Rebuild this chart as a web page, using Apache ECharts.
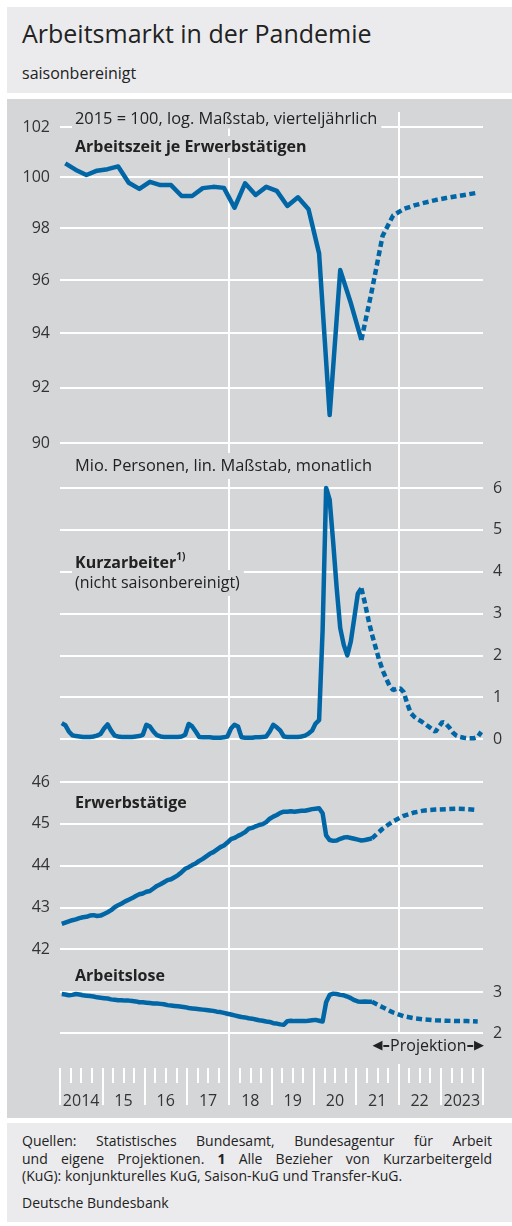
<!DOCTYPE html>
<html>
<head>
<meta charset="utf-8">
<script src="https://cdn.jsdelivr.net/npm/echarts@6/dist/echarts.min.js"></script>
<style>
body{margin:0;width:512px;height:1226px;background:#fff;font-family:"Open Sans",sans-serif;color:#222;position:relative;overflow:hidden}
#head{position:absolute;left:7px;top:7px;width:505px;height:86px;background:#ebebed}
#head .t{position:absolute;left:15px;top:11px;font-size:25px;line-height:30px;white-space:nowrap}
#head .s{position:absolute;left:15px;top:56px;font-size:16px;line-height:20px}
#chart{position:absolute;left:7px;top:99px;width:505px;height:1019px;background:#d5d6d8}
#foot{position:absolute;left:7px;top:1123px;width:505px;height:99px;background:#ebebed;box-sizing:border-box;padding:9px 20px 0 15px;font-size:14px;line-height:17.5px}
#foot .j{text-align:justify;text-align-last:justify}
#foot .src{margin-top:9px}
</style>
</head>
<body>
<div id="head">
  <div class="t">Arbeitsmarkt in der Pandemie</div>
  <div class="s">saisonbereinigt</div>
</div>
<div id="chart"></div>
<div id="foot">
  <div class="j">Quellen: Statistisches Bundesamt, Bundesagentur für Arbeit</div>
  <div class="j">und eigene Projektionen. <b>1</b> Alle Bezieher von Kurzarbeitergeld</div>
  <div>(KuG): konjunkturelles KuG, Saison-KuG und Transfer-KuG.</div>
  <div class="src">Deutsche Bundesbank</div>
</div>
<script>
// Jahresbeschriftung der x-Achse
var years = ['2014', '15', '16', '17', '18', '19', '20', '21', '22', '2023'];
// Achsenwerte Arbeitszeit (log. Skala)
var logTicks = [90, 92, 94, 96, 98, 100, 102];

// Arbeitszeit je Erwerbstätigen, vierteljährlich ab 2014 Q1
var arbeitszeit = [100.54, 100.28, 100.08, 100.25, 100.31, 100.42, 99.77, 99.53,
    99.81, 99.68, 99.68, 99.25, 99.25, 99.56, 99.61, 99.57,
    98.79, 99.75, 99.29, 99.61, 99.45, 98.86, 99.20, 98.73,
    97.02, 91.00, 96.38, 95.13, 93.75];
// Projektion, vierteljährlich ab 2021 Q1
var arbeitszeitProj = [93.75, 95.62, 97.69, 98.49, 98.74, 98.88, 98.99, 99.09, 99.17, 99.24, 99.31, 99.38];

// Kurzarbeiter in Mio., monatlich ab Jan 2014
var kurzarbeiter = [
    0.38, 0.33, 0.18, 0.09, 0.07, 0.06, 0.05, 0.05, 0.05, 0.06, 0.08, 0.12,
    0.25, 0.35, 0.20, 0.08, 0.06, 0.05, 0.05, 0.05, 0.05, 0.06, 0.07, 0.10,
    0.34, 0.30, 0.18, 0.09, 0.06, 0.05, 0.05, 0.05, 0.05, 0.05, 0.06, 0.10,
    0.36, 0.30, 0.18, 0.05, 0.04, 0.04, 0.04, 0.03, 0.03, 0.03, 0.04, 0.06,
    0.25, 0.34, 0.30, 0.04, 0.03, 0.03, 0.03, 0.04, 0.04, 0.05, 0.06, 0.18,
    0.34, 0.28, 0.20, 0.06, 0.05, 0.05, 0.05, 0.05, 0.06, 0.08, 0.13, 0.20,
    0.37, 0.45, 2.60, 6.00, 5.72, 4.70, 3.60, 2.65, 2.25, 2.00, 2.33, 2.90,
    3.48, 3.60];
// Projektion, monatlich ab Feb 2021
var kurzarbeiterProj = [3.60, 3.25, 2.85, 2.50, 2.20, 1.90, 1.65, 1.45, 1.27, 1.17, 1.20,
    1.21, 1.12, 0.85, 0.62, 0.53, 0.47, 0.42, 0.36, 0.30, 0.24, 0.17, 0.30,
    0.41, 0.36, 0.27, 0.15, 0.08, 0.05, 0.03, 0.02, 0.02, 0.02, 0.05, 0.17];

// Erwerbstätige in Mio., monatlich ab Jan 2014
var erwerbstaetige = [
    42.60, 42.63, 42.66, 42.69, 42.71, 42.74, 42.76, 42.77, 42.80, 42.81, 42.79, 42.80,
    42.84, 42.88, 42.93, 43.00, 43.05, 43.09, 43.14, 43.18, 43.22, 43.27, 43.31, 43.33,
    43.37, 43.39, 43.45, 43.51, 43.55, 43.60, 43.65, 43.67, 43.72, 43.77, 43.84, 43.92,
    43.96, 44.01, 44.05, 44.11, 44.16, 44.22, 44.28, 44.32, 44.38, 44.44, 44.48, 44.55,
    44.63, 44.66, 44.71, 44.75, 44.80, 44.88, 44.90, 44.94, 44.97, 44.99, 45.04, 45.12,
    45.17, 45.21, 45.26, 45.29, 45.29, 45.30, 45.29, 45.30, 45.31, 45.31, 45.33, 45.35,
    45.36, 45.37, 45.25, 44.72, 44.61, 44.59, 44.60, 44.64, 44.67, 44.68, 44.66, 44.64,
    44.62, 44.60, 44.61, 44.63, 44.65];
// Projektion, vierteljährlich ab 2021 Q3
var erwerbstaetigeProj = [44.88, 45.06, 45.19, 45.27, 45.32, 45.34, 45.35, 45.36, 45.35, 45.33];

// Arbeitslose in Mio., monatlich ab Jan 2014
var arbeitslose = [
    2.95, 2.94, 2.92, 2.93, 2.95, 2.94, 2.92, 2.91, 2.90, 2.89, 2.87, 2.86,
    2.85, 2.84, 2.82, 2.81, 2.80, 2.80, 2.79, 2.79, 2.78, 2.77, 2.75, 2.75,
    2.74, 2.73, 2.72, 2.72, 2.71, 2.70, 2.68, 2.67, 2.66, 2.65, 2.64, 2.63,
    2.61, 2.60, 2.59, 2.58, 2.57, 2.56, 2.55, 2.54, 2.52, 2.51, 2.49, 2.47,
    2.45, 2.43, 2.41, 2.39, 2.38, 2.36, 2.35, 2.33, 2.31, 2.30, 2.28, 2.27,
    2.24, 2.23, 2.21, 2.20, 2.29, 2.30, 2.29, 2.29, 2.29, 2.29, 2.30, 2.31,
    2.32, 2.30, 2.28, 2.75, 2.93, 2.96, 2.95, 2.93, 2.92, 2.89, 2.85, 2.80,
    2.77, 2.76, 2.77, 2.76, 2.76];
// Projektion, vierteljährlich ab 2021 Q3
var arbeitsloseProj = [2.63, 2.50, 2.41, 2.36, 2.33, 2.31, 2.30, 2.29, 2.29, 2.28];

var FONT = '"Open Sans", sans-serif';
var BLUE = '#0066a6';
var BG = '#d5d6d8';

function monthly(values, year, month) {
    return values.map(function(v, i) {
        return [year + (month - 1 + i + 0.5) / 12, v];
    });
}
function quarterly(values, year, q) {
    return values.map(function(v, i) {
        return [year + (q - 1 + i + 0.5) / 4, v];
    });
}

var myChart = echarts.init(document.getElementById('chart'));

var gridLine = { lineStyle: { color: '#fff', width: 2 } };
var tickLabel = { color: '#333', fontSize: 16, fontFamily: FONT, margin: 10 };

function xHidden(i) {
    return { type: 'value', gridIndex: i, min: 2014, max: 2024, show: false };
}

function solid(xi, data) {
    return {
        type: 'line', xAxisIndex: xi, yAxisIndex: xi, data: data, symbol: 'none', clip: false,
        lineStyle: { color: BLUE, width: 4.5, join: 'round' }, silent: true, z: 5
    };
}
function dotted(xi, data) {
    return {
        type: 'line', xAxisIndex: xi, yAxisIndex: xi, data: data, symbol: 'none', clip: false,
        lineStyle: { color: BLUE, width: 4.5, type: [6, 3.5] }, silent: true, z: 5
    };
}

function text(str, x, y, opts) {
    opts = opts || {};
    var font = (opts.bold ? 'bold ' : '') + (opts.size || (opts.bold ? 16 : 16.4)) + 'px ' + FONT;
    var pad = opts.padding || [1, 4, 1, 3];
    return {
        type: 'text', x: x, y: y, z: 100, silent: true,
        style: {
            text: str, font: font, fill: '#222',
            align: opts.align || 'left', textAlign: opts.align || 'left',
            verticalAlign: 'middle', textVerticalAlign: 'middle',
            backgroundColor: BG, textBackgroundColor: BG,
            padding: pad, textPadding: pad,
            rich: opts.rich
        }
    };
}

var option = {
    animation: false,
    backgroundColor: BG,
    grid: [
        { left: 53, right: 29, top: 28, height: 316 },
        { left: 53, right: 29, top: 389, height: 251 },
        { left: 53, right: 29, top: 683, height: 167 },
        { left: 53, right: 29, top: 893, height: 41 },
        { left: 53, right: 29, top: 13, bottom: 50 }
    ],
    xAxis: [
        xHidden(0), xHidden(1), xHidden(2), xHidden(3),
        {   // senkrechte Linien 2018 und 2022
            type: 'value', gridIndex: 4, position: 'bottom', min: 2014, max: 2024, interval: 4,
            axisLine: { show: false }, axisTick: { show: false }, axisLabel: { show: false },
            splitLine: { show: true, showMinLine: false, showMaxLine: false, lineStyle: { color: '#fff', width: 2 } }
        },
        {   // Jahres- und Quartalsstriche
            type: 'value', gridIndex: 4, position: 'bottom', min: 2014, max: 2024, interval: 1,
            axisLine: { show: false },
            axisTick: { show: true, length: 37, lineStyle: { color: '#fff', width: 2 } },
            minorTick: { show: true, splitNumber: 4, length: 15, lineStyle: { color: '#fff', width: 2 } },
            axisLabel: { show: false }, splitLine: { show: false }
        },
        {   // Jahreszahlen
            type: 'category', gridIndex: 4, position: 'bottom', data: years, boundaryGap: true,
            axisLine: { show: false }, axisTick: { show: false }, splitLine: { show: false },
            axisLabel: { interval: 0, color: '#333', fontSize: 16, fontFamily: FONT, margin: 25 }
        }
    ],
    yAxis: [
        {
            type: 'log', logBase: 10, gridIndex: 0, min: 90, max: 102, position: 'left',
            axisLine: { show: false },
            axisTick: { show: false, customValues: logTicks },
            axisLabel: Object.assign({ customValues: logTicks }, tickLabel),
            splitLine: gridLine
        },
        {
            type: 'value', gridIndex: 1, min: 0, max: 6, interval: 1, position: 'right',
            axisLine: { show: false }, axisTick: { show: false },
            axisLabel: tickLabel, splitLine: gridLine
        },
        {
            type: 'value', gridIndex: 2, min: 42, max: 46, interval: 1, position: 'left',
            axisLine: { show: false }, axisTick: { show: false },
            axisLabel: tickLabel, splitLine: gridLine
        },
        {
            type: 'value', gridIndex: 3, min: 2, max: 3, interval: 1, position: 'right',
            axisLine: { show: false }, axisTick: { show: false },
            axisLabel: tickLabel, splitLine: gridLine
        },
        { type: 'value', gridIndex: 4, min: 0, max: 1, show: false }
    ],
    series: [
        solid(0, quarterly(arbeitszeit, 2014, 1)),
        dotted(0, quarterly(arbeitszeitProj, 2021, 1)),
        solid(1, monthly(kurzarbeiter, 2014, 1)),
        dotted(1, monthly(kurzarbeiterProj, 2021, 2)),
        solid(2, monthly(erwerbstaetige, 2014, 1)),
        dotted(2, monthly(erwerbstaetige.slice(-1), 2021, 5).concat(quarterly(erwerbstaetigeProj, 2021, 3))),
        solid(3, monthly(arbeitslose, 2014, 1)),
        dotted(3, monthly(arbeitslose.slice(-1), 2021, 5).concat(quarterly(arbeitsloseProj, 2021, 3)))
    ],
    graphic: {
        elements: [
            text('2015 = 100, log. Maßstab, vierteljährlich', 65, 20, { padding: [1, 4, 2, 3] }),
            text('Arbeitszeit je Erwerbstätigen', 65, 48, { bold: true, padding: [1, 4, 5, 3] }),
            text('Mio. Personen, lin. Maßstab, monatlich', 65, 367, { padding: [2, 4, 8, 3] }),
            text('{b|Kurzarbeiter}{s|1)}', 65, 464, {
                padding: [1, 4, 1, 3],
                rich: {
                    b: { font: 'bold 16px ' + FONT, fill: '#222', lineHeight: 21 },
                    s: { font: 'bold 10px ' + FONT, fill: '#222', lineHeight: 12, verticalAlign: 'top' }
                }
            }),
            text('(nicht saisonbereinigt)', 65, 484, { size: 16, padding: [1, 4, 9, 3] }),
            text('Erwerbstätige', 65, 704, { bold: true }),
            text('Arbeitslose', 65, 877, { bold: true }),
            text('{a|◀}{d|–}{p|Projektion}{d|–}{a|▶}', 477, 950, {
                align: 'right', padding: [2, 0, 8, 2],
                rich: {
                    a: { font: '13px "DejaVu Sans"', fill: '#222', lineHeight: 20 },
                    d: { font: 'bold 15px "DejaVu Sans"', fill: '#222', lineHeight: 20 },
                    p: { font: '16px ' + FONT, fill: '#222', lineHeight: 20 }
                }
            })
        ]
    }
};

myChart.setOption(option);
</script>
</body>
</html>
